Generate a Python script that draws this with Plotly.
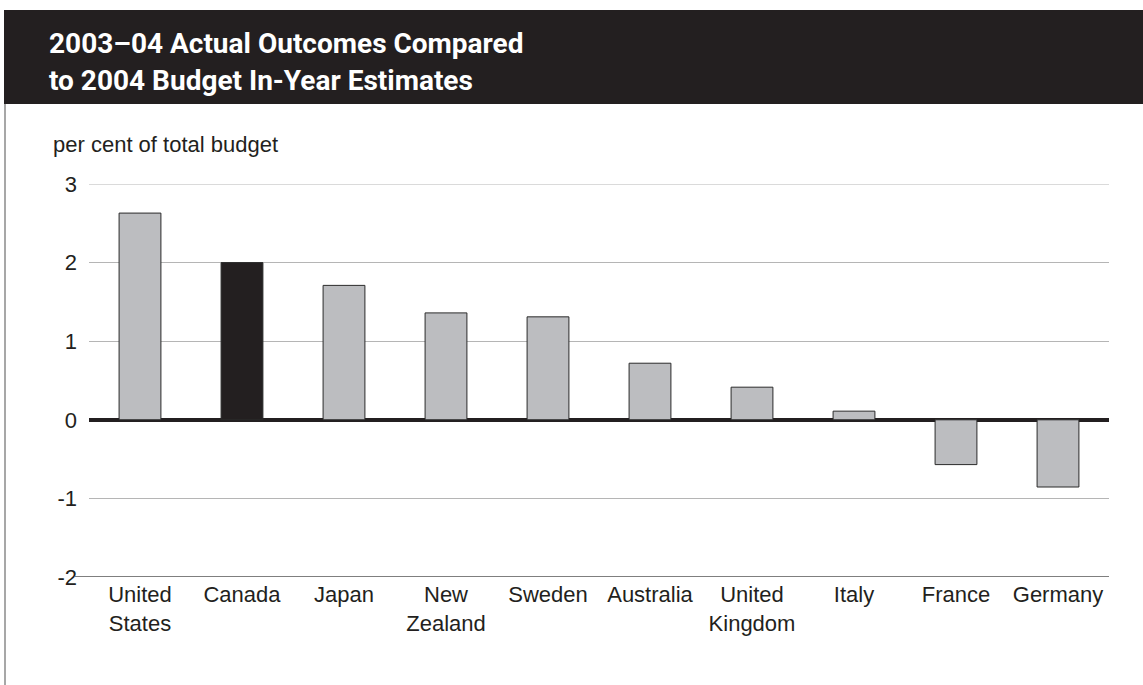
import plotly.graph_objects as go

# Countries and in-year budget outcome differences (per cent of total budget)
countries = ["United<br>States", "Canada", "Japan", "New<br>Zealand", "Sweden",
             "Australia", "United<br>Kingdom", "Italy", "France", "Germany"]
values = [2.63, 2.0, 1.71, 1.36, 1.31, 0.72, 0.415, 0.11, -0.57, -0.855]
highlight = "Canada"

y_ticks = [-2, -1, 0, 1, 2, 3]
y_tick_text = ["-2", "-1", "0", "1", "2", "3"]

title_lines = ["2003–04 Actual Outcomes Compared", "to 2004 Budget In-Year Estimates"]
y_title = "per cent of total budget"

W, H = 1143, 685
L, R, T, B = 89, 34, 184, 108
pw, ph = W - L - R, H - T - B


def px_x(x):
    return (x - L) / pw


def px_y(y):
    return (H - B - y) / ph


colors = ["#231f20" if c == highlight else "#bcbdc0" for c in countries]

fig = go.Figure(go.Bar(
    x=countries, y=values,
    marker=dict(color=colors, line=dict(color="#2a2a2a", width=1)),
    width=0.41,
))

text_font = "Liberation Sans, Arial, sans-serif"
title_font = "Roboto, Liberation Sans, sans-serif"

fig.update_layout(
    width=W, height=H,
    margin=dict(l=L, r=R, t=T, b=B),
    paper_bgcolor="white", plot_bgcolor="white",
    showlegend=False,
    xaxis=dict(
        showgrid=False, zeroline=False, showline=False, ticks="",
        tickfont=dict(family=text_font, size=22, color="#231f20"),
        ticklabelstandoff=2,
    ),
    yaxis=dict(
        range=[-2, 3], tickvals=y_ticks, ticktext=y_tick_text,
        showgrid=True, gridcolor="#b5b5b5", gridwidth=1,
        zeroline=True, zerolinecolor="#231f20", zerolinewidth=3.5,
        showline=False, ticks="",
        tickfont=dict(family=text_font, size=22, color="#231f20"),
        ticklabelstandoff=11,
    ),
    shapes=[
        # title banner
        dict(type="rect", xref="paper", yref="paper", layer="below",
             x0=px_x(4), x1=px_x(W + 2), y0=px_y(104), y1=px_y(10),
             fillcolor="#231f20", line=dict(width=0)),
        # left frame rule
        dict(type="line", xref="paper", yref="paper",
             x0=px_x(5), x1=px_x(5), y0=px_y(104), y1=px_y(H + 2),
             line=dict(color="#8a8a8a", width=1.5)),
        # top gridline at 3
        dict(type="line", xref="paper", yref="y", layer="below",
             x0=0, x1=1, y0=3, y1=3,
             line=dict(color="#b5b5b5", width=1)),
        # bottom rule at -2
        dict(type="line", xref="paper", yref="y",
             x0=px_x(75), x1=1, y0=-2, y1=-2,
             line=dict(color="#555555", width=1.5)),
    ],
    annotations=[
        dict(text=title_lines[0], xref="paper", yref="paper",
             x=px_x(47), y=px_y(44), xanchor="left", yanchor="middle",
             showarrow=False,
             font=dict(family=title_font, size=28, color="white", weight="bold")),
        dict(text=title_lines[1], xref="paper", yref="paper",
             x=px_x(47), y=px_y(80), xanchor="left", yanchor="middle",
             showarrow=False,
             font=dict(family=title_font, size=28, color="white", weight="bold")),
        dict(text=y_title, xref="paper", yref="paper",
             x=px_x(51), y=px_y(145), xanchor="left", yanchor="middle",
             showarrow=False,
             font=dict(family=text_font, size=22, color="#231f20")),
    ],
)

fig.write_html("out.html")
